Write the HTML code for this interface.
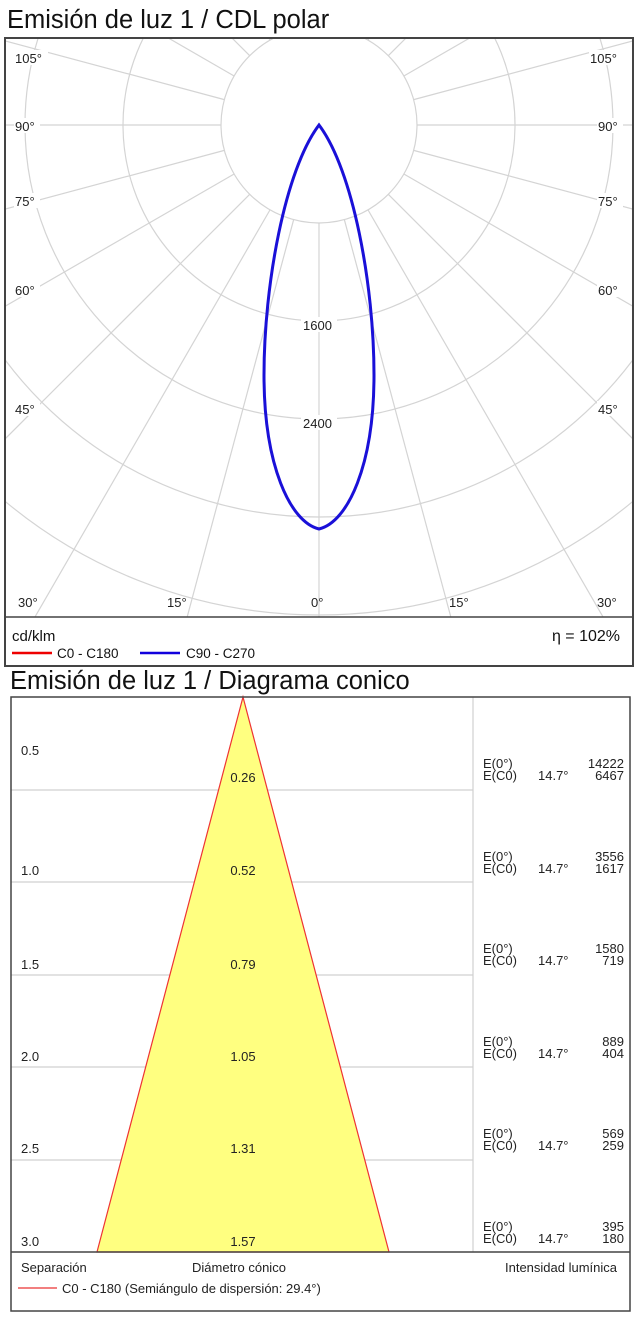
<!DOCTYPE html>
<html><head><meta charset="utf-8"><style>
body{margin:0;background:#fff;width:640px;height:1329px;overflow:hidden;font-family:"Liberation Sans",sans-serif}
svg{position:absolute;left:0;top:0}
</style></head><body>
<svg width="640" height="1329" viewBox="0 0 640 1329" font-family="Liberation Sans, sans-serif">
<text x="7" y="28" font-size="25.5" fill="#111">Emisión de luz 1 / CDL polar</text>
<defs><clipPath id="pc"><rect x="5" y="38" width="628" height="579"/></clipPath></defs>
<g clip-path="url(#pc)" stroke="#d4d4d4" stroke-width="1.2" fill="none">
<circle cx="319" cy="125" r="98"/>
<circle cx="319" cy="125" r="196"/>
<circle cx="319" cy="125" r="294"/>
<circle cx="319" cy="125" r="392"/>
<circle cx="319" cy="125" r="490"/>
<line x1="319" y1="223" x2="319" y2="800"/>
<g transform="rotate(15 319 125)"><line x1="319" y1="223" x2="319" y2="900"/></g>
<g transform="rotate(30 319 125)"><line x1="319" y1="223" x2="319" y2="900"/></g>
<g transform="rotate(45 319 125)"><line x1="319" y1="223" x2="319" y2="900"/></g>
<g transform="rotate(60 319 125)"><line x1="319" y1="223" x2="319" y2="900"/></g>
<g transform="rotate(75 319 125)"><line x1="319" y1="223" x2="319" y2="900"/></g>
<g transform="rotate(90 319 125)"><line x1="319" y1="223" x2="319" y2="900"/></g>
<g transform="rotate(105 319 125)"><line x1="319" y1="223" x2="319" y2="900"/></g>
<g transform="rotate(120 319 125)"><line x1="319" y1="223" x2="319" y2="900"/></g>
<g transform="rotate(135 319 125)"><line x1="319" y1="223" x2="319" y2="900"/></g>
<g transform="rotate(150 319 125)"><line x1="319" y1="223" x2="319" y2="900"/></g>
<g transform="rotate(-15 319 125)"><line x1="319" y1="223" x2="319" y2="900"/></g>
<g transform="rotate(-30 319 125)"><line x1="319" y1="223" x2="319" y2="900"/></g>
<g transform="rotate(-45 319 125)"><line x1="319" y1="223" x2="319" y2="900"/></g>
<g transform="rotate(-60 319 125)"><line x1="319" y1="223" x2="319" y2="900"/></g>
<g transform="rotate(-75 319 125)"><line x1="319" y1="223" x2="319" y2="900"/></g>
<g transform="rotate(-90 319 125)"><line x1="319" y1="223" x2="319" y2="900"/></g>
<g transform="rotate(-105 319 125)"><line x1="319" y1="223" x2="319" y2="900"/></g>
<g transform="rotate(-120 319 125)"><line x1="319" y1="223" x2="319" y2="900"/></g>
<g transform="rotate(-135 319 125)"><line x1="319" y1="223" x2="319" y2="900"/></g>
<g transform="rotate(-150 319 125)"><line x1="319" y1="223" x2="319" y2="900"/></g>
</g>
<g font-size="13" fill="#222">
<rect x="14" y="50" width="34" height="15" fill="#fff"/><text x="15" y="63">105°</text>
<rect x="589" y="50" width="34" height="15" fill="#fff"/><text x="590" y="63">105°</text>
<rect x="14" y="118" width="26" height="15" fill="#fff"/><text x="15" y="131">90°</text>
<rect x="597" y="118" width="26" height="15" fill="#fff"/><text x="598" y="131">90°</text>
<rect x="14" y="193" width="26" height="15" fill="#fff"/><text x="15" y="206">75°</text>
<rect x="597" y="193" width="26" height="15" fill="#fff"/><text x="598" y="206">75°</text>
<rect x="14" y="282" width="26" height="15" fill="#fff"/><text x="15" y="295">60°</text>
<rect x="597" y="282" width="26" height="15" fill="#fff"/><text x="598" y="295">60°</text>
<rect x="14" y="401" width="26" height="15" fill="#fff"/><text x="15" y="414">45°</text>
<rect x="597" y="401" width="26" height="15" fill="#fff"/><text x="598" y="414">45°</text>
<text x="18" y="607">30°</text><text x="597" y="607">30°</text>
<text x="167" y="607">15°</text><text x="449" y="607">15°</text>
<text x="311" y="607">0°</text>
<rect x="301" y="317" width="36" height="15" fill="#fff"/><text x="303" y="330">1600</text>
<rect x="301" y="415" width="36" height="15" fill="#fff"/><text x="303" y="428">2400</text>
</g>
<path d="M319,529 C290,522 264,465 264,375 C264,285 285,170 319,125 C353,170 374,285 374,375 C374,465 348,522 319,529 Z" fill="none" stroke="#1a10d8" stroke-width="3"/>
<rect x="5" y="38" width="628" height="628" fill="none" stroke="#444" stroke-width="2"/>
<line x1="5" y1="617" x2="633" y2="617" stroke="#444" stroke-width="1.5"/>
<text x="12" y="641" font-size="15" fill="#111">cd/klm</text>
<text x="620" y="641" font-size="16" fill="#111" text-anchor="end">η = 102%</text>
<line x1="12" y1="653" x2="52" y2="653" stroke="#e00" stroke-width="2.5"/>
<text x="57" y="658" font-size="13.5" fill="#111">C0 - C180</text>
<line x1="140" y1="653" x2="180" y2="653" stroke="#10d" stroke-width="2.5"/>
<text x="186" y="658" font-size="13.5" fill="#111">C90 - C270</text>

<text x="10" y="689" font-size="25.5" fill="#111">Emisión de luz 1 / Diagrama conico</text>
<g stroke="#d0d0d0" stroke-width="1.2">
<line x1="11" y1="790" x2="473" y2="790"/><line x1="11" y1="882" x2="473" y2="882"/>
<line x1="11" y1="975" x2="473" y2="975"/><line x1="11" y1="1067" x2="473" y2="1067"/>
<line x1="11" y1="1160" x2="473" y2="1160"/>
<line x1="473" y1="697" x2="473" y2="1252"/>
</g>
<polygon points="243,697 389,1252 97,1252" fill="#ffff80" stroke="#e33" stroke-width="1.2"/>
<g font-size="13" fill="#222">
<text x="21" y="755">0.5</text><text x="21" y="875">1.0</text><text x="21" y="969">1.5</text>
<text x="21" y="1061">2.0</text><text x="21" y="1153">2.5</text><text x="21" y="1246">3.0</text>
<g text-anchor="middle">
<text x="243" y="782">0.26</text><text x="243" y="875">0.52</text><text x="243" y="969">0.79</text>
<text x="243" y="1061">1.05</text><text x="243" y="1153">1.31</text><text x="243" y="1246">1.57</text>
</g>
<g>
<text x="483" y="768">E(0°)</text><text x="483" y="780">E(C0)</text><text x="538" y="780">14.7°</text>
<text x="483" y="861">E(0°)</text><text x="483" y="873">E(C0)</text><text x="538" y="873">14.7°</text>
<text x="483" y="953">E(0°)</text><text x="483" y="965">E(C0)</text><text x="538" y="965">14.7°</text>
<text x="483" y="1046">E(0°)</text><text x="483" y="1058">E(C0)</text><text x="538" y="1058">14.7°</text>
<text x="483" y="1138">E(0°)</text><text x="483" y="1150">E(C0)</text><text x="538" y="1150">14.7°</text>
<text x="483" y="1231">E(0°)</text><text x="483" y="1243">E(C0)</text><text x="538" y="1243">14.7°</text>
</g>
<g text-anchor="end">
<text x="624" y="768">14222</text><text x="624" y="780">6467</text>
<text x="624" y="861">3556</text><text x="624" y="873">1617</text>
<text x="624" y="953">1580</text><text x="624" y="965">719</text>
<text x="624" y="1046">889</text><text x="624" y="1058">404</text>
<text x="624" y="1138">569</text><text x="624" y="1150">259</text>
<text x="624" y="1231">395</text><text x="624" y="1243">180</text>
</g>
<text x="21" y="1272">Separación</text><text x="192" y="1272">Diámetro cónico</text>
<text x="617" y="1272" text-anchor="end">Intensidad lumínica</text>
<text x="62" y="1293">C0 - C180 (Semiángulo de dispersión: 29.4°)</text>
</g>
<line x1="18" y1="1288" x2="57" y2="1288" stroke="#e55" stroke-width="1.5"/>
<rect x="11" y="697" width="619" height="614" fill="none" stroke="#444" stroke-width="1.5"/>
<line x1="11" y1="1252" x2="630" y2="1252" stroke="#444" stroke-width="1.5"/>
</svg>
</body></html>
